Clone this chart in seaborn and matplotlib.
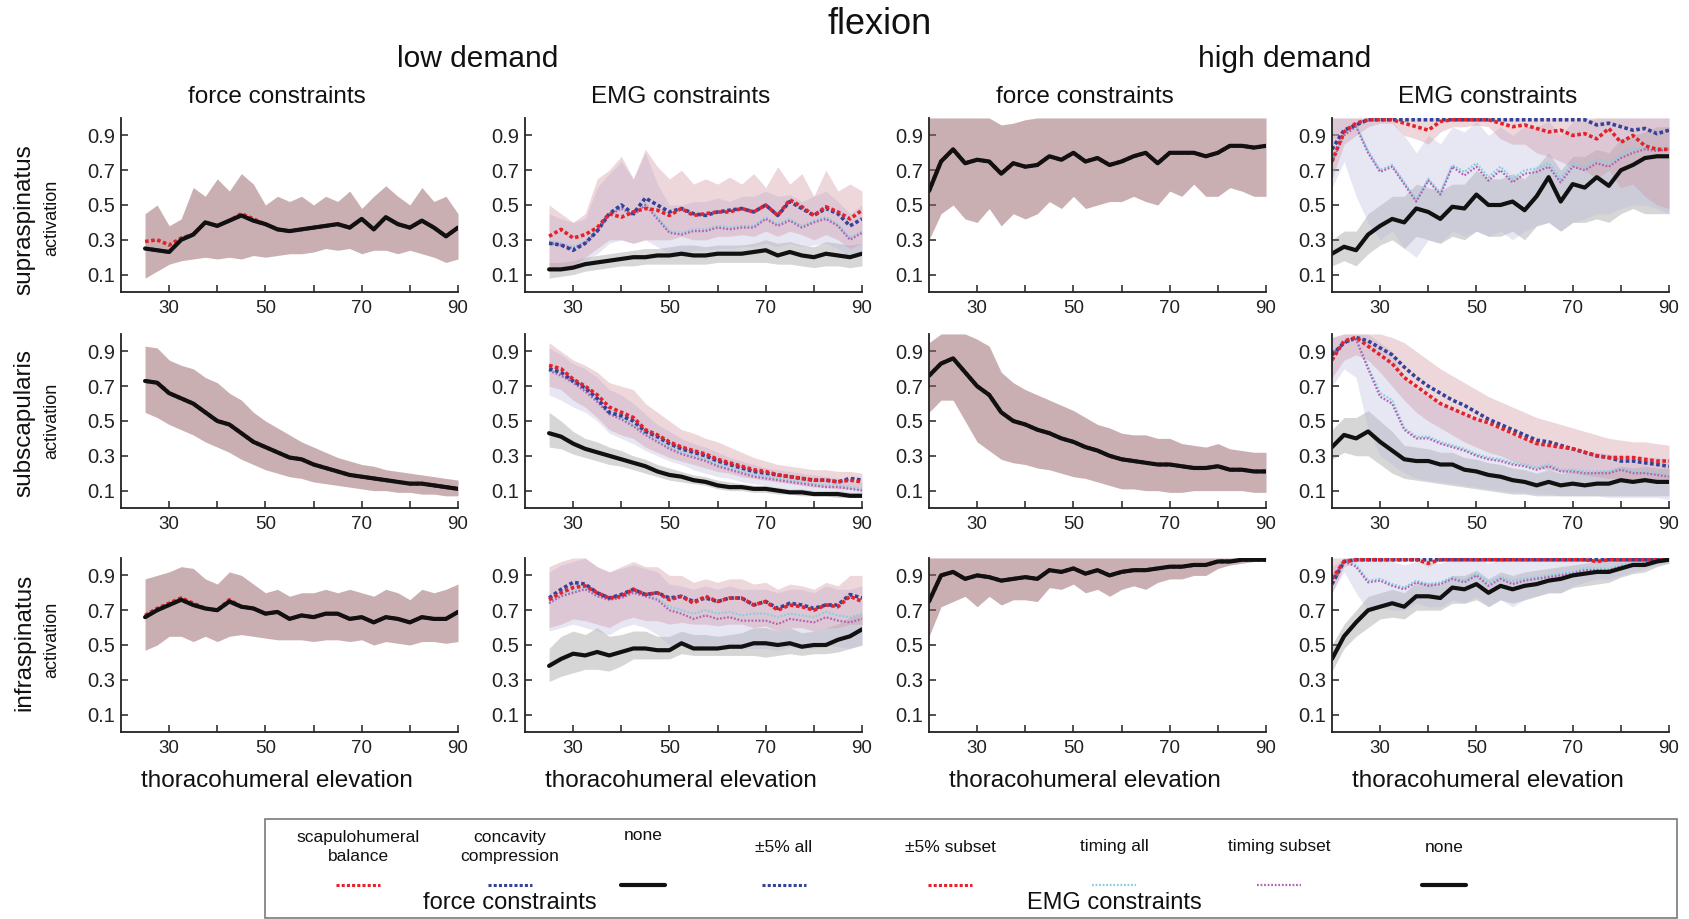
import numpy as np
import matplotlib
matplotlib.use("Agg")
import matplotlib.pyplot as plt
from matplotlib.lines import Line2D
from matplotlib.patches import Rectangle
import seaborn as sns

# x grids (thoracohumeral elevation, deg)
x_low = np.arange(25, 90.1, 2.5)
x_high = np.arange(20, 90.1, 2.5)

# ---------------- supraspinatus ----------------
sup_low_force_none = [0.25, 0.24, 0.23, 0.30, 0.33, 0.40, 0.38, 0.41, 0.44, 0.41, 0.39, 0.36, 0.35, 0.36,
                      0.37, 0.38, 0.39, 0.37, 0.42, 0.36, 0.43, 0.39, 0.37, 0.41, 0.37, 0.32, 0.37]
sup_low_force_shb = [0.29, 0.30, 0.27, 0.31, 0.33, 0.40, 0.38, 0.41, 0.45, 0.42, 0.39, 0.36, 0.35, 0.36,
                     0.37, 0.38, 0.39, 0.37, 0.42, 0.36, 0.43, 0.39, 0.37, 0.41, 0.37, 0.32, 0.37]
sup_low_force_cc = sup_low_force_none
sup_low_force_lo = [0.08, 0.12, 0.16, 0.18, 0.19, 0.20, 0.19, 0.20, 0.19, 0.21, 0.20, 0.21, 0.22, 0.22,
                    0.23, 0.25, 0.24, 0.25, 0.22, 0.24, 0.24, 0.22, 0.24, 0.22, 0.20, 0.17, 0.19]
sup_low_force_hi = [0.45, 0.50, 0.38, 0.42, 0.60, 0.55, 0.65, 0.58, 0.68, 0.62, 0.50, 0.55, 0.52, 0.55,
                    0.50, 0.55, 0.52, 0.58, 0.48, 0.55, 0.61, 0.55, 0.50, 0.60, 0.52, 0.55, 0.45]

sup_low_emg_none = [0.13, 0.13, 0.14, 0.16, 0.17, 0.18, 0.19, 0.20, 0.20, 0.21, 0.21, 0.22, 0.21, 0.21,
                    0.22, 0.22, 0.22, 0.23, 0.24, 0.21, 0.23, 0.21, 0.20, 0.22, 0.21, 0.20, 0.22]
sup_low_emg_none_lo = [0.08, 0.09, 0.10, 0.12, 0.13, 0.14, 0.15, 0.15, 0.16, 0.16, 0.16, 0.16, 0.16, 0.16,
                       0.17, 0.17, 0.17, 0.17, 0.17, 0.16, 0.16, 0.15, 0.14, 0.15, 0.15, 0.14, 0.15]
sup_low_emg_none_hi = [0.17, 0.17, 0.18, 0.20, 0.21, 0.22, 0.23, 0.24, 0.25, 0.25, 0.26, 0.27, 0.27, 0.26,
                       0.27, 0.27, 0.27, 0.28, 0.30, 0.28, 0.29, 0.27, 0.26, 0.29, 0.28, 0.27, 0.28]
sup_low_emg_all = [0.28, 0.27, 0.24, 0.28, 0.35, 0.45, 0.50, 0.45, 0.54, 0.50, 0.46, 0.48, 0.45, 0.44,
                   0.46, 0.47, 0.48, 0.46, 0.50, 0.44, 0.52, 0.48, 0.44, 0.48, 0.45, 0.38, 0.42]
sup_low_emg_sub = [0.32, 0.36, 0.31, 0.33, 0.37, 0.45, 0.43, 0.46, 0.48, 0.47, 0.44, 0.48, 0.44, 0.45,
                   0.46, 0.46, 0.48, 0.46, 0.50, 0.44, 0.53, 0.49, 0.44, 0.49, 0.46, 0.42, 0.47]
sup_low_emg_tsub = [0.28, 0.27, 0.25, 0.28, 0.35, 0.44, 0.48, 0.44, 0.50, 0.42, 0.34, 0.33, 0.35, 0.35,
                    0.37, 0.36, 0.37, 0.37, 0.42, 0.38, 0.41, 0.37, 0.40, 0.42, 0.38, 0.30, 0.34]
sup_low_emg_tall = [0.29, 0.28, 0.26, 0.29, 0.36, 0.45, 0.49, 0.45, 0.51, 0.43, 0.35, 0.34, 0.36, 0.36,
                    0.38, 0.37, 0.38, 0.38, 0.43, 0.39, 0.42, 0.38, 0.41, 0.43, 0.39, 0.31, 0.35]
sup_low_emg_pct_lo = [0.15, 0.14, 0.15, 0.20, 0.25, 0.30, 0.30, 0.28, 0.30, 0.30, 0.30, 0.32, 0.30, 0.30,
                      0.32, 0.32, 0.33, 0.32, 0.35, 0.32, 0.35, 0.33, 0.30, 0.33, 0.30, 0.25, 0.28]
sup_low_emg_pct_hi = [0.50, 0.45, 0.40, 0.45, 0.65, 0.70, 0.78, 0.65, 0.82, 0.72, 0.65, 0.70, 0.62, 0.65,
                      0.62, 0.66, 0.62, 0.68, 0.60, 0.72, 0.62, 0.68, 0.55, 0.70, 0.58, 0.62, 0.58]
sup_low_emg_tim_lo = [0.12, 0.13, 0.14, 0.18, 0.22, 0.28, 0.30, 0.28, 0.30, 0.26, 0.22, 0.22, 0.24, 0.24,
                      0.25, 0.25, 0.26, 0.26, 0.28, 0.26, 0.28, 0.26, 0.27, 0.28, 0.25, 0.20, 0.22]
sup_low_emg_tim_hi = [0.45, 0.42, 0.40, 0.42, 0.60, 0.68, 0.75, 0.65, 0.80, 0.62, 0.50, 0.50, 0.52, 0.52,
                      0.54, 0.52, 0.55, 0.55, 0.58, 0.55, 0.56, 0.52, 0.55, 0.58, 0.52, 0.45, 0.50]

sup_high_force_none = [0.58, 0.75, 0.82, 0.74, 0.76, 0.75, 0.68, 0.74, 0.72, 0.73, 0.78, 0.76, 0.80, 0.75, 0.77,
                       0.73, 0.75, 0.78, 0.80, 0.74, 0.80, 0.80, 0.80, 0.78, 0.80, 0.84, 0.84, 0.83, 0.84]
sup_high_force_shb = sup_high_force_none
sup_high_force_cc = sup_high_force_none
sup_high_force_lo = [0.30, 0.45, 0.50, 0.42, 0.40, 0.48, 0.38, 0.45, 0.42, 0.45, 0.52, 0.48, 0.55, 0.48, 0.50,
                     0.52, 0.52, 0.55, 0.52, 0.50, 0.58, 0.55, 0.62, 0.55, 0.55, 0.60, 0.58, 0.55, 0.55]
sup_high_force_hi = [1.00, 1.00, 1.00, 1.00, 1.00, 1.00, 0.96, 0.97, 0.99, 1.00, 1.00, 1.00, 1.00, 1.00, 1.00,
                     1.00, 1.00, 1.00, 1.00, 1.00, 1.00, 1.00, 1.00, 1.00, 1.00, 1.00, 1.00, 1.00, 1.00]

sup_high_emg_none = [0.22, 0.26, 0.24, 0.33, 0.38, 0.42, 0.40, 0.48, 0.46, 0.42, 0.49, 0.48, 0.56, 0.50, 0.50,
                     0.52, 0.47, 0.55, 0.66, 0.52, 0.62, 0.60, 0.66, 0.61, 0.70, 0.73, 0.77, 0.78, 0.78]
sup_high_emg_none_lo = [0.15, 0.18, 0.15, 0.22, 0.27, 0.30, 0.25, 0.32, 0.30, 0.28, 0.32, 0.30, 0.35, 0.32, 0.32,
                        0.35, 0.30, 0.38, 0.40, 0.35, 0.40, 0.40, 0.42, 0.40, 0.45, 0.48, 0.45, 0.45, 0.45]
sup_high_emg_none_hi = [0.30, 0.35, 0.35, 0.45, 0.50, 0.55, 0.55, 0.62, 0.60, 0.58, 0.62, 0.62, 0.70, 0.65, 0.65,
                        0.68, 0.65, 0.72, 0.80, 0.70, 0.78, 0.78, 0.82, 0.80, 0.88, 0.90, 0.92, 0.95, 0.95]
sup_high_emg_all = [0.82, 0.93, 0.96, 0.99, 0.99, 0.99, 0.99, 0.99, 0.99, 0.99, 0.99, 0.99, 0.99, 0.99, 0.99,
                    0.99, 0.99, 0.99, 0.99, 0.99, 0.99, 0.99, 0.96, 0.97, 0.95, 0.93, 0.94, 0.91, 0.93]
sup_high_emg_sub = [0.75, 0.92, 0.97, 0.99, 0.99, 0.99, 0.97, 0.95, 0.93, 0.98, 0.99, 0.99, 0.99, 0.99, 0.97,
                    0.95, 0.96, 0.94, 0.92, 0.93, 0.90, 0.91, 0.88, 0.94, 0.86, 0.90, 0.84, 0.82, 0.82]
sup_high_emg_tsub = [0.75, 0.90, 0.95, 0.80, 0.69, 0.72, 0.62, 0.52, 0.64, 0.56, 0.72, 0.67, 0.72, 0.64, 0.70,
                     0.63, 0.68, 0.69, 0.72, 0.63, 0.72, 0.70, 0.74, 0.72, 0.77, 0.80, 0.82, 0.81, 0.82]
sup_high_emg_tall = [0.76, 0.91, 0.96, 0.81, 0.70, 0.73, 0.63, 0.53, 0.65, 0.57, 0.73, 0.69, 0.74, 0.66, 0.72,
                     0.65, 0.70, 0.71, 0.74, 0.65, 0.74, 0.72, 0.76, 0.74, 0.79, 0.82, 0.83, 0.82, 0.83]
sup_high_emg_pct_lo = [0.65, 0.85, 0.90, 0.95, 0.97, 0.97, 0.90, 0.88, 0.85, 0.92, 0.95, 0.95, 0.96, 0.95, 0.88,
                       0.85, 0.85, 0.80, 0.78, 0.75, 0.72, 0.70, 0.65, 0.70, 0.60, 0.62, 0.55, 0.50, 0.48]
sup_high_emg_pct_hi = [1.00, 1.00, 1.00, 1.00, 1.00, 1.00, 1.00, 1.00, 1.00, 1.00, 1.00, 1.00, 1.00, 1.00, 1.00,
                       1.00, 1.00, 1.00, 1.00, 1.00, 1.00, 1.00, 1.00, 1.00, 1.00, 1.00, 1.00, 1.00, 1.00]
sup_high_emg_tim_lo = [0.60, 0.75, 0.55, 0.40, 0.30, 0.35, 0.25, 0.20, 0.30, 0.28, 0.35, 0.32, 0.35, 0.32, 0.35,
                       0.30, 0.35, 0.38, 0.40, 0.35, 0.40, 0.42, 0.45, 0.45, 0.48, 0.50, 0.50, 0.48, 0.45]
sup_high_emg_tim_hi = [1.00, 1.00, 1.00, 1.00, 0.98, 0.98, 0.90, 0.80, 0.90, 0.85, 0.95, 0.92, 0.98, 0.90, 0.95,
                       0.90, 0.95, 0.95, 0.98, 0.90, 0.98, 0.98, 1.00, 1.00, 1.00, 1.00, 1.00, 1.00, 1.00]

# ---------------- subscapularis ----------------
sub_low_force_none = [0.73, 0.72, 0.66, 0.63, 0.60, 0.55, 0.50, 0.48, 0.43, 0.38, 0.35, 0.32, 0.29, 0.28,
                      0.25, 0.23, 0.21, 0.19, 0.18, 0.17, 0.16, 0.15, 0.14, 0.14, 0.13, 0.12, 0.11]
sub_low_force_shb = sub_low_force_none
sub_low_force_cc = sub_low_force_none
sub_low_force_lo = [0.55, 0.52, 0.48, 0.45, 0.42, 0.38, 0.35, 0.32, 0.28, 0.25, 0.22, 0.20, 0.18, 0.17,
                    0.15, 0.14, 0.13, 0.12, 0.11, 0.10, 0.10, 0.09, 0.09, 0.08, 0.08, 0.07, 0.07]
sub_low_force_hi = [0.93, 0.92, 0.85, 0.82, 0.80, 0.75, 0.72, 0.66, 0.62, 0.55, 0.50, 0.46, 0.42, 0.38,
                    0.35, 0.32, 0.29, 0.27, 0.25, 0.24, 0.22, 0.21, 0.20, 0.19, 0.18, 0.17, 0.16]

sub_low_emg_none = [0.43, 0.41, 0.37, 0.34, 0.32, 0.30, 0.28, 0.26, 0.24, 0.21, 0.19, 0.18, 0.16, 0.15,
                    0.13, 0.12, 0.12, 0.11, 0.11, 0.10, 0.09, 0.09, 0.08, 0.08, 0.08, 0.07, 0.07]
sub_low_emg_none_lo = [0.35, 0.34, 0.31, 0.29, 0.27, 0.25, 0.24, 0.22, 0.20, 0.18, 0.16, 0.15, 0.14, 0.13,
                       0.11, 0.10, 0.10, 0.09, 0.09, 0.08, 0.08, 0.07, 0.07, 0.07, 0.06, 0.06, 0.06]
sub_low_emg_none_hi = [0.55, 0.50, 0.44, 0.40, 0.38, 0.35, 0.33, 0.30, 0.28, 0.25, 0.23, 0.21, 0.19, 0.18,
                       0.16, 0.15, 0.14, 0.13, 0.13, 0.12, 0.11, 0.11, 0.10, 0.10, 0.10, 0.09, 0.09]
sub_low_emg_all = [0.80, 0.78, 0.73, 0.69, 0.63, 0.55, 0.53, 0.50, 0.44, 0.41, 0.37, 0.34, 0.32, 0.30,
                   0.27, 0.25, 0.23, 0.21, 0.20, 0.19, 0.18, 0.17, 0.16, 0.16, 0.15, 0.17, 0.16]
sub_low_emg_sub = [0.82, 0.80, 0.74, 0.70, 0.65, 0.58, 0.55, 0.52, 0.45, 0.42, 0.38, 0.35, 0.33, 0.31,
                   0.28, 0.26, 0.24, 0.22, 0.21, 0.19, 0.18, 0.17, 0.16, 0.16, 0.15, 0.16, 0.15]
sub_low_emg_tsub = [0.79, 0.76, 0.72, 0.67, 0.61, 0.54, 0.51, 0.47, 0.42, 0.38, 0.34, 0.31, 0.29, 0.27,
                    0.24, 0.22, 0.20, 0.18, 0.17, 0.16, 0.15, 0.14, 0.13, 0.12, 0.12, 0.11, 0.10]
sub_low_emg_tall = [0.79, 0.77, 0.72, 0.68, 0.62, 0.54, 0.52, 0.48, 0.43, 0.39, 0.35, 0.32, 0.30, 0.28,
                    0.25, 0.23, 0.21, 0.19, 0.18, 0.17, 0.16, 0.15, 0.14, 0.13, 0.13, 0.12, 0.11]
sub_low_emg_pct_lo = [0.70, 0.68, 0.62, 0.58, 0.52, 0.45, 0.42, 0.40, 0.35, 0.32, 0.29, 0.27, 0.25, 0.23,
                      0.21, 0.20, 0.18, 0.17, 0.16, 0.15, 0.14, 0.13, 0.12, 0.12, 0.11, 0.11, 0.10]
sub_low_emg_pct_hi = [0.95, 0.90, 0.85, 0.82, 0.78, 0.72, 0.70, 0.68, 0.60, 0.55, 0.50, 0.45, 0.43, 0.40,
                      0.38, 0.35, 0.32, 0.29, 0.27, 0.25, 0.24, 0.23, 0.22, 0.22, 0.21, 0.21, 0.20]
sub_low_emg_tim_lo = [0.65, 0.62, 0.58, 0.55, 0.50, 0.43, 0.40, 0.37, 0.33, 0.30, 0.27, 0.25, 0.22, 0.20,
                      0.18, 0.17, 0.15, 0.14, 0.13, 0.12, 0.11, 0.10, 0.10, 0.09, 0.09, 0.08, 0.08]
sub_low_emg_tim_hi = [0.92, 0.88, 0.83, 0.80, 0.75, 0.68, 0.65, 0.60, 0.54, 0.48, 0.44, 0.40, 0.37, 0.35,
                      0.32, 0.29, 0.27, 0.25, 0.23, 0.22, 0.21, 0.20, 0.19, 0.18, 0.17, 0.16, 0.15]

sub_high_force_none = [0.76, 0.83, 0.86, 0.78, 0.70, 0.65, 0.55, 0.50, 0.48, 0.45, 0.43, 0.40, 0.38, 0.35, 0.33,
                       0.30, 0.28, 0.27, 0.26, 0.25, 0.25, 0.24, 0.23, 0.23, 0.24, 0.22, 0.22, 0.21, 0.21]
sub_high_force_shb = sub_high_force_none
sub_high_force_cc = sub_high_force_none
sub_high_force_lo = [0.55, 0.62, 0.62, 0.50, 0.38, 0.33, 0.28, 0.26, 0.25, 0.23, 0.22, 0.20, 0.18, 0.17, 0.15,
                     0.13, 0.11, 0.11, 0.10, 0.10, 0.09, 0.09, 0.10, 0.10, 0.10, 0.10, 0.10, 0.09, 0.09]
sub_high_force_hi = [0.95, 1.00, 1.00, 1.00, 0.97, 0.93, 0.78, 0.72, 0.68, 0.65, 0.62, 0.59, 0.56, 0.52, 0.48,
                     0.46, 0.43, 0.42, 0.42, 0.40, 0.40, 0.37, 0.36, 0.35, 0.37, 0.34, 0.33, 0.32, 0.32]

sub_high_emg_none = [0.35, 0.42, 0.40, 0.44, 0.38, 0.33, 0.28, 0.27, 0.27, 0.25, 0.25, 0.22, 0.21, 0.19, 0.18,
                     0.16, 0.15, 0.13, 0.15, 0.13, 0.14, 0.13, 0.14, 0.14, 0.16, 0.15, 0.16, 0.15, 0.15]
sub_high_emg_none_lo = [0.28, 0.32, 0.30, 0.30, 0.25, 0.20, 0.17, 0.16, 0.15, 0.14, 0.13, 0.12, 0.11, 0.10, 0.09,
                        0.08, 0.08, 0.07, 0.07, 0.07, 0.07, 0.07, 0.07, 0.07, 0.07, 0.07, 0.07, 0.07, 0.07]
sub_high_emg_none_hi = [0.45, 0.52, 0.52, 0.56, 0.50, 0.44, 0.36, 0.35, 0.34, 0.32, 0.32, 0.29, 0.28, 0.26, 0.25,
                        0.23, 0.22, 0.20, 0.22, 0.20, 0.21, 0.20, 0.21, 0.22, 0.24, 0.23, 0.24, 0.23, 0.23]
sub_high_emg_all = [0.88, 0.95, 0.98, 0.96, 0.92, 0.88, 0.81, 0.75, 0.70, 0.66, 0.62, 0.59, 0.55, 0.51, 0.48,
                    0.45, 0.42, 0.39, 0.38, 0.36, 0.34, 0.32, 0.30, 0.29, 0.27, 0.27, 0.26, 0.25, 0.24]
sub_high_emg_sub = [0.85, 0.96, 0.98, 0.93, 0.88, 0.83, 0.75, 0.70, 0.65, 0.60, 0.57, 0.54, 0.51, 0.49, 0.46,
                    0.43, 0.40, 0.37, 0.36, 0.35, 0.34, 0.32, 0.30, 0.29, 0.29, 0.29, 0.28, 0.27, 0.27]
sub_high_emg_tsub = [0.88, 0.95, 0.97, 0.80, 0.64, 0.60, 0.45, 0.40, 0.40, 0.37, 0.35, 0.33, 0.30, 0.28, 0.27,
                     0.25, 0.24, 0.22, 0.24, 0.21, 0.21, 0.20, 0.20, 0.20, 0.22, 0.20, 0.20, 0.19, 0.18]
sub_high_emg_tall = [0.88, 0.95, 0.97, 0.81, 0.66, 0.62, 0.46, 0.41, 0.41, 0.38, 0.36, 0.34, 0.31, 0.29, 0.28,
                     0.26, 0.25, 0.23, 0.25, 0.22, 0.22, 0.21, 0.21, 0.21, 0.23, 0.21, 0.21, 0.20, 0.19]
sub_high_emg_pct_lo = [0.75, 0.85, 0.88, 0.85, 0.78, 0.70, 0.62, 0.55, 0.50, 0.46, 0.42, 0.38, 0.35, 0.32, 0.30,
                       0.27, 0.25, 0.23, 0.22, 0.21, 0.20, 0.19, 0.18, 0.17, 0.17, 0.16, 0.16, 0.16, 0.15]
sub_high_emg_pct_hi = [0.98, 1.00, 1.00, 1.00, 1.00, 0.98, 0.95, 0.90, 0.85, 0.80, 0.76, 0.72, 0.68, 0.64, 0.61,
                       0.58, 0.55, 0.52, 0.50, 0.48, 0.46, 0.44, 0.42, 0.40, 0.39, 0.38, 0.38, 0.37, 0.36]
sub_high_emg_tim_lo = [0.70, 0.80, 0.75, 0.45, 0.30, 0.25, 0.20, 0.17, 0.16, 0.15, 0.14, 0.13, 0.12, 0.11, 0.10,
                       0.09, 0.09, 0.08, 0.08, 0.07, 0.07, 0.07, 0.07, 0.06, 0.06, 0.06, 0.06, 0.06, 0.05]
sub_high_emg_tim_hi = [0.98, 1.00, 1.00, 1.00, 0.95, 0.90, 0.75, 0.68, 0.64, 0.60, 0.57, 0.54, 0.51, 0.48, 0.45,
                       0.42, 0.40, 0.38, 0.37, 0.35, 0.34, 0.33, 0.32, 0.31, 0.30, 0.30, 0.29, 0.29, 0.28]

# ---------------- infraspinatus ----------------
inf_low_force_none = [0.66, 0.70, 0.73, 0.76, 0.73, 0.71, 0.70, 0.75, 0.72, 0.71, 0.68, 0.69, 0.65, 0.67,
                      0.66, 0.68, 0.68, 0.65, 0.66, 0.63, 0.66, 0.65, 0.63, 0.66, 0.65, 0.65, 0.69]
inf_low_force_shb = [0.67, 0.71, 0.74, 0.77, 0.74, 0.71, 0.70, 0.76, 0.72, 0.71, 0.68, 0.69, 0.65, 0.67,
                     0.66, 0.68, 0.68, 0.65, 0.66, 0.63, 0.66, 0.65, 0.63, 0.66, 0.65, 0.65, 0.69]
inf_low_force_cc = inf_low_force_none
inf_low_force_lo = [0.47, 0.50, 0.55, 0.55, 0.52, 0.55, 0.52, 0.55, 0.56, 0.55, 0.54, 0.53, 0.53, 0.53,
                    0.52, 0.53, 0.53, 0.52, 0.53, 0.50, 0.52, 0.51, 0.50, 0.52, 0.52, 0.51, 0.52]
inf_low_force_hi = [0.88, 0.90, 0.92, 0.95, 0.94, 0.88, 0.85, 0.92, 0.90, 0.85, 0.80, 0.82, 0.78, 0.80,
                    0.80, 0.82, 0.80, 0.82, 0.80, 0.78, 0.82, 0.80, 0.76, 0.82, 0.80, 0.82, 0.85]

inf_low_emg_none = [0.38, 0.42, 0.45, 0.44, 0.46, 0.44, 0.46, 0.48, 0.48, 0.47, 0.47, 0.51, 0.48, 0.48,
                    0.48, 0.49, 0.49, 0.51, 0.51, 0.50, 0.51, 0.49, 0.50, 0.50, 0.53, 0.55, 0.59]
inf_low_emg_none_lo = [0.29, 0.32, 0.34, 0.36, 0.36, 0.35, 0.38, 0.42, 0.42, 0.42, 0.42, 0.45, 0.44, 0.44,
                       0.44, 0.44, 0.44, 0.44, 0.43, 0.44, 0.45, 0.44, 0.45, 0.45, 0.46, 0.48, 0.50]
inf_low_emg_none_hi = [0.48, 0.55, 0.58, 0.56, 0.60, 0.55, 0.56, 0.58, 0.58, 0.55, 0.55, 0.58, 0.56, 0.56,
                       0.55, 0.56, 0.57, 0.60, 0.60, 0.58, 0.60, 0.57, 0.58, 0.60, 0.62, 0.66, 0.68]
inf_low_emg_all = [0.77, 0.82, 0.86, 0.85, 0.80, 0.77, 0.79, 0.82, 0.79, 0.80, 0.77, 0.78, 0.75, 0.77,
                   0.75, 0.77, 0.77, 0.73, 0.75, 0.71, 0.74, 0.73, 0.71, 0.73, 0.73, 0.79, 0.77]
inf_low_emg_sub = [0.76, 0.80, 0.83, 0.84, 0.80, 0.77, 0.78, 0.82, 0.79, 0.80, 0.76, 0.78, 0.74, 0.78,
                   0.75, 0.77, 0.77, 0.73, 0.75, 0.70, 0.73, 0.72, 0.70, 0.73, 0.72, 0.78, 0.75]
inf_low_emg_tsub = [0.74, 0.78, 0.80, 0.82, 0.78, 0.76, 0.77, 0.80, 0.78, 0.76, 0.70, 0.68, 0.65, 0.67,
                    0.65, 0.66, 0.64, 0.64, 0.64, 0.62, 0.65, 0.64, 0.63, 0.66, 0.64, 0.63, 0.65]
inf_low_emg_tall = [0.75, 0.79, 0.81, 0.83, 0.79, 0.77, 0.78, 0.81, 0.79, 0.77, 0.72, 0.70, 0.68, 0.70,
                    0.68, 0.69, 0.67, 0.68, 0.68, 0.66, 0.68, 0.67, 0.66, 0.69, 0.67, 0.66, 0.68]
inf_low_emg_pct_lo = [0.60, 0.62, 0.65, 0.64, 0.62, 0.60, 0.64, 0.66, 0.64, 0.64, 0.62, 0.63, 0.62, 0.62,
                      0.61, 0.62, 0.62, 0.60, 0.61, 0.58, 0.60, 0.60, 0.58, 0.60, 0.60, 0.62, 0.62]
inf_low_emg_pct_hi = [0.95, 0.98, 1.00, 1.00, 0.95, 0.92, 0.95, 0.98, 0.95, 0.95, 0.90, 0.90, 0.86, 0.88,
                      0.86, 0.88, 0.88, 0.85, 0.86, 0.82, 0.85, 0.84, 0.82, 0.86, 0.84, 0.90, 0.90]
inf_low_emg_tim_lo = [0.58, 0.60, 0.62, 0.60, 0.58, 0.56, 0.60, 0.62, 0.60, 0.56, 0.50, 0.50, 0.48, 0.50,
                      0.48, 0.50, 0.48, 0.48, 0.48, 0.47, 0.49, 0.48, 0.48, 0.50, 0.49, 0.48, 0.50]
inf_low_emg_tim_hi = [0.92, 0.96, 0.98, 1.00, 0.95, 0.92, 0.94, 0.96, 0.94, 0.92, 0.85, 0.84, 0.82, 0.84,
                      0.82, 0.84, 0.82, 0.82, 0.82, 0.80, 0.82, 0.82, 0.80, 0.84, 0.82, 0.82, 0.84]

inf_high_force_none = [0.75, 0.90, 0.92, 0.88, 0.90, 0.89, 0.87, 0.88, 0.89, 0.88, 0.93, 0.92, 0.94, 0.91, 0.93,
                       0.90, 0.92, 0.93, 0.93, 0.94, 0.95, 0.95, 0.96, 0.96, 0.98, 0.98, 0.99, 0.99, 0.99]
inf_high_force_shb = inf_high_force_none
inf_high_force_cc = inf_high_force_none
inf_high_force_lo = [0.55, 0.72, 0.75, 0.78, 0.72, 0.78, 0.73, 0.76, 0.76, 0.75, 0.83, 0.82, 0.85, 0.80, 0.82,
                     0.78, 0.82, 0.84, 0.82, 0.86, 0.88, 0.88, 0.90, 0.90, 0.94, 0.96, 0.97, 0.98, 0.99]
inf_high_force_hi = [1.00, 1.00, 1.00, 1.00, 1.00, 1.00, 1.00, 1.00, 1.00, 1.00, 1.00, 1.00, 1.00, 1.00, 1.00,
                     1.00, 1.00, 1.00, 1.00, 1.00, 1.00, 1.00, 1.00, 1.00, 1.00, 1.00, 1.00, 1.00, 1.00]

inf_high_emg_none = [0.42, 0.55, 0.63, 0.70, 0.72, 0.74, 0.72, 0.78, 0.78, 0.77, 0.83, 0.82, 0.85, 0.80, 0.84,
                     0.82, 0.84, 0.85, 0.87, 0.88, 0.90, 0.91, 0.92, 0.92, 0.94, 0.96, 0.96, 0.98, 0.99]
inf_high_emg_none_lo = [0.35, 0.48, 0.55, 0.60, 0.65, 0.66, 0.65, 0.70, 0.70, 0.70, 0.74, 0.74, 0.76, 0.72, 0.76,
                        0.74, 0.76, 0.78, 0.80, 0.80, 0.83, 0.84, 0.85, 0.86, 0.89, 0.91, 0.92, 0.95, 0.97]
inf_high_emg_none_hi = [0.50, 0.62, 0.70, 0.78, 0.80, 0.82, 0.80, 0.86, 0.86, 0.85, 0.90, 0.90, 0.93, 0.88, 0.92,
                        0.90, 0.92, 0.93, 0.94, 0.95, 0.96, 0.97, 0.98, 0.98, 0.99, 1.00, 1.00, 1.00, 1.00]
inf_high_emg_all = [0.85, 0.98, 0.99, 0.99, 0.99, 0.99, 0.99, 0.99, 0.99, 0.99, 0.99, 0.99, 0.99, 0.99, 0.99,
                    0.99, 0.99, 0.99, 0.99, 0.99, 0.99, 0.99, 0.99, 0.99, 0.99, 0.99, 0.99, 0.99, 0.99]
inf_high_emg_sub = [0.88, 0.98, 0.99, 0.99, 0.99, 0.99, 0.99, 0.99, 0.97, 0.99, 0.99, 0.99, 0.99, 0.99, 0.99,
                    0.99, 0.99, 0.99, 0.99, 0.99, 0.99, 0.99, 0.98, 0.99, 0.99, 0.99, 0.99, 0.99, 0.99]
inf_high_emg_tsub = [0.88, 0.98, 0.95, 0.86, 0.87, 0.84, 0.82, 0.86, 0.84, 0.85, 0.88, 0.86, 0.90, 0.84, 0.88,
                     0.85, 0.87, 0.88, 0.89, 0.90, 0.91, 0.93, 0.93, 0.93, 0.95, 0.96, 0.97, 0.98, 0.99]
inf_high_emg_tall = [0.88, 0.98, 0.96, 0.87, 0.88, 0.85, 0.83, 0.87, 0.85, 0.86, 0.89, 0.87, 0.91, 0.86, 0.89,
                     0.87, 0.88, 0.89, 0.90, 0.91, 0.92, 0.94, 0.94, 0.94, 0.96, 0.97, 0.97, 0.98, 0.99]
inf_high_emg_pct_lo = [0.80, 0.95, 0.98, 0.99, 0.99, 0.99, 0.99, 0.99, 0.95, 0.99, 0.99, 0.99, 0.99, 0.99, 0.99,
                       0.99, 0.99, 0.99, 0.99, 0.99, 0.99, 0.99, 0.97, 0.99, 0.99, 0.99, 0.99, 0.99, 0.99]
inf_high_emg_pct_hi = [1.00, 1.00, 1.00, 1.00, 1.00, 1.00, 1.00, 1.00, 1.00, 1.00, 1.00, 1.00, 1.00, 1.00, 1.00,
                       1.00, 1.00, 1.00, 1.00, 1.00, 1.00, 1.00, 1.00, 1.00, 1.00, 1.00, 1.00, 1.00, 1.00]
inf_high_emg_tim_lo = [0.80, 0.92, 0.80, 0.70, 0.72, 0.70, 0.70, 0.74, 0.72, 0.72, 0.76, 0.74, 0.78, 0.72, 0.76,
                       0.72, 0.76, 0.78, 0.80, 0.80, 0.84, 0.86, 0.88, 0.88, 0.90, 0.92, 0.94, 0.96, 0.97]
inf_high_emg_tim_hi = [0.95, 1.00, 1.00, 1.00, 1.00, 0.98, 0.96, 0.98, 0.97, 0.97, 0.99, 0.98, 1.00, 0.97, 0.99,
                       0.98, 0.99, 0.99, 1.00, 1.00, 1.00, 1.00, 1.00, 1.00, 1.00, 1.00, 1.00, 1.00, 1.00]

muscles = ["supraspinatus", "subscapularis", "infraspinatus"]
y_ticks = [0.1, 0.3, 0.5, 0.7, 0.9]
x_ticks = [30, 50, 70, 90]

RED = "#e2232c"
BLUE = "#33439a"
CYAN = "#84d0e0"
PURPLE = "#b062b4"
BLACK = "#111111"
DOT = (0, (1.0, 0.7))
FINE = (0, (0.8, 0.8))

W, H = 1690, 919


def band(ax, x, lo, hi, color, alpha):
    ax.fill_between(x, lo, hi, color=color, alpha=alpha, linewidth=0)


def line(ax, x, y, color, lw, ls="-"):
    sns.lineplot(x=x, y=y, ax=ax, color=color, linewidth=lw, linestyle=ls,
                 errorbar=None, legend=False)


def force_panel(ax, x, none, shb, cc, lo, hi):
    # red, blue and grey bands on top of each other give the brownish tone
    band(ax, x, lo, hi, "#c86060", 0.33)
    band(ax, x, lo, hi, "#7a84c8", 0.06)
    band(ax, x, lo, hi, "#5a5a5a", 0.20)
    line(ax, x, cc, BLUE, 2.6, DOT)
    line(ax, x, shb, RED, 2.6, DOT)
    line(ax, x, none, BLACK, 3.0)


def emg_panel(ax, x, all5, sub5, tall, tsub, none,
              pct_lo, pct_hi, tim_lo, tim_hi, none_lo, none_hi):
    band(ax, x, none_lo, none_hi, "#7a7a7a", 0.30)
    band(ax, x, tim_lo, tim_hi, "#a6dbe8", 0.15)
    band(ax, x, tim_lo, tim_hi, "#c6a6d8", 0.22)
    band(ax, x, pct_lo, pct_hi, "#8c98de", 0.16)
    band(ax, x, pct_lo, pct_hi, "#f09a8c", 0.27)
    line(ax, x, tall, CYAN, 1.6, FINE)
    line(ax, x, tsub, PURPLE, 1.6, FINE)
    line(ax, x, all5, BLUE, 2.6, DOT)
    line(ax, x, sub5, RED, 2.6, DOT)
    line(ax, x, none, BLACK, 3.0)


def style_axes(ax):
    ax.set_xlim(20, 90)
    ax.set_ylim(0, 1)
    ax.set_xticks(x_ticks)
    ax.set_xticklabels([str(t) for t in x_ticks])
    ax.set_xticks([40, 60, 80], minor=True)
    ax.set_yticks(y_ticks)
    ax.set_yticklabels([f"{t:.1f}" for t in y_ticks])
    ax.tick_params(axis="both", which="both", direction="in", length=5, width=1.1,
                   labelsize=13.5, colors="#222222")
    ax.tick_params(axis="x", pad=6)
    ax.tick_params(axis="y", pad=4, labelsize=14.5)
    ax.set_xlabel("")
    ax.set_ylabel("")
    for s in ["left", "bottom"]:
        ax.spines[s].set_linewidth(1.3)
        ax.spines[s].set_color("#222222")
    sns.despine(ax=ax)


def main():
    sns.set_style("ticks")
    plt.rcParams["font.family"] = ["Liberation Sans", "DejaVu Sans"]

    fig = plt.figure(figsize=(W / 100, H / 100), dpi=100)

    col_left = [121, 525, 929, 1332]
    row_top = [118, 334, 558]
    aw, ah = 337, 174

    axes = []
    for r in range(3):
        row = []
        for c in range(4):
            l = col_left[c] / W
            b = 1 - (row_top[r] + ah) / H
            row.append(fig.add_axes([l, b, aw / W, ah / H]))
        axes.append(row)

    force_panel(axes[0][0], x_low, sup_low_force_none, sup_low_force_shb, sup_low_force_cc,
                sup_low_force_lo, sup_low_force_hi)
    emg_panel(axes[0][1], x_low, sup_low_emg_all, sup_low_emg_sub, sup_low_emg_tall, sup_low_emg_tsub,
              sup_low_emg_none, sup_low_emg_pct_lo, sup_low_emg_pct_hi, sup_low_emg_tim_lo,
              sup_low_emg_tim_hi, sup_low_emg_none_lo, sup_low_emg_none_hi)
    force_panel(axes[0][2], x_high, sup_high_force_none, sup_high_force_shb, sup_high_force_cc,
                sup_high_force_lo, sup_high_force_hi)
    emg_panel(axes[0][3], x_high, sup_high_emg_all, sup_high_emg_sub, sup_high_emg_tall, sup_high_emg_tsub,
              sup_high_emg_none, sup_high_emg_pct_lo, sup_high_emg_pct_hi, sup_high_emg_tim_lo,
              sup_high_emg_tim_hi, sup_high_emg_none_lo, sup_high_emg_none_hi)

    force_panel(axes[1][0], x_low, sub_low_force_none, sub_low_force_shb, sub_low_force_cc,
                sub_low_force_lo, sub_low_force_hi)
    emg_panel(axes[1][1], x_low, sub_low_emg_all, sub_low_emg_sub, sub_low_emg_tall, sub_low_emg_tsub,
              sub_low_emg_none, sub_low_emg_pct_lo, sub_low_emg_pct_hi, sub_low_emg_tim_lo,
              sub_low_emg_tim_hi, sub_low_emg_none_lo, sub_low_emg_none_hi)
    force_panel(axes[1][2], x_high, sub_high_force_none, sub_high_force_shb, sub_high_force_cc,
                sub_high_force_lo, sub_high_force_hi)
    emg_panel(axes[1][3], x_high, sub_high_emg_all, sub_high_emg_sub, sub_high_emg_tall, sub_high_emg_tsub,
              sub_high_emg_none, sub_high_emg_pct_lo, sub_high_emg_pct_hi, sub_high_emg_tim_lo,
              sub_high_emg_tim_hi, sub_high_emg_none_lo, sub_high_emg_none_hi)

    force_panel(axes[2][0], x_low, inf_low_force_none, inf_low_force_shb, inf_low_force_cc,
                inf_low_force_lo, inf_low_force_hi)
    emg_panel(axes[2][1], x_low, inf_low_emg_all, inf_low_emg_sub, inf_low_emg_tall, inf_low_emg_tsub,
              inf_low_emg_none, inf_low_emg_pct_lo, inf_low_emg_pct_hi, inf_low_emg_tim_lo,
              inf_low_emg_tim_hi, inf_low_emg_none_lo, inf_low_emg_none_hi)
    force_panel(axes[2][2], x_high, inf_high_force_none, inf_high_force_shb, inf_high_force_cc,
                inf_high_force_lo, inf_high_force_hi)
    emg_panel(axes[2][3], x_high, inf_high_emg_all, inf_high_emg_sub, inf_high_emg_tall, inf_high_emg_tsub,
              inf_high_emg_none, inf_high_emg_pct_lo, inf_high_emg_pct_hi, inf_high_emg_tim_lo,
              inf_high_emg_tim_hi, inf_high_emg_none_lo, inf_high_emg_none_hi)

    for row in axes:
        for ax in row:
            style_axes(ax)

    def ftext(x, y, s, **kw):
        fig.text(x / W, 1 - y / H, s, ha="center", va="center", color="#111111", **kw)

    # headers
    ftext(880, 25, "flexion", fontsize=26)
    ftext(478, 59, "low demand", fontsize=21.5)
    ftext(1285, 59, "high demand", fontsize=21.5)
    col_titles = ["force constraints", "EMG constraints", "force constraints", "EMG constraints"]
    for c, t in enumerate(col_titles):
        cx = col_left[c] + aw / 2 - 13
        ftext(cx, 97, t, fontsize=17.5)
        ftext(cx, 781, "thoracohumeral elevation", fontsize=17.5)

    row_centers = [220, 423, 642]
    for r, m in enumerate(muscles):
        ftext(24, row_centers[r], m, fontsize=17.5, rotation=90)
        ftext(52, row_centers[r] - 2, "activation", fontsize=13, rotation=90)

    # legend box
    fig.add_artist(Rectangle((265 / W, 1 - 918 / H), (1677 - 265) / W, (918 - 819) / H,
                             transform=fig.transFigure, fill=False, edgecolor="#7a7a7a", linewidth=1.2))
    entries = [
        (358, 847, "scapulohumeral\nbalance", RED, 2.2, DOT),
        (510, 847, "concavity\ncompression", BLUE, 2.2, DOT),
        (643, 836, "none", BLACK, 3.0, "-"),
        (784, 847, "±5% all", BLUE, 2.2, DOT),
        (950, 847, "±5% subset", RED, 2.2, DOT),
        (1114, 847, "timing all", CYAN, 1.6, FINE),
        (1279, 847, "timing subset", PURPLE, 1.6, FINE),
        (1444, 847, "none", BLACK, 3.0, "-"),
    ]
    for x0, y0, label, color, lw, ls in entries:
        ftext(x0, y0, label, fontsize=12.5, linespacing=1.3)
        yy = 1 - 885 / H
        fig.add_artist(Line2D([(x0 - 22) / W, (x0 + 22) / W], [yy, yy], transform=fig.transFigure,
                              color=color, linewidth=lw, linestyle=ls))
    ftext(510, 903, "force constraints", fontsize=17)
    ftext(1114, 903, "EMG constraints", fontsize=17)

    fig.savefig("out.png", dpi=100)


if __name__ == "__main__":
    main()
